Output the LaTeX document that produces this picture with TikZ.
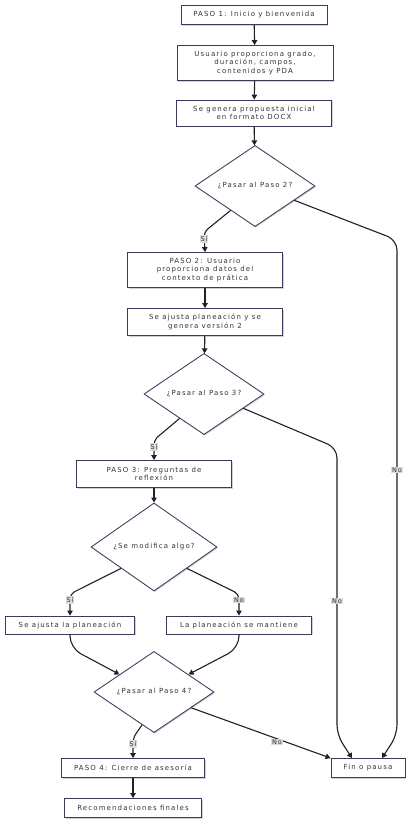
\documentclass[tikz,border=0pt]{standalone}
\usepackage{fontspec}
\setmainfont{DejaVu Sans}
\newfontfamily\flowfont[LetterSpace=16]{DejaVu Sans}
\usetikzlibrary{shapes.geometric,arrows.meta,shadows}
\definecolor{edgec}{HTML}{202028}
\definecolor{boxc}{HTML}{3A3A5C}
\definecolor{txtc}{HTML}{333340}
\definecolor{lblc}{HTML}{DCDCDC}
\tikzset{
  base/.style={draw=boxc, line width=0.85pt, fill=white, inner sep=0pt, align=center, text=txtc,
    font=\flowfont\fontsize{7}{8.6}\selectfont,
    drop shadow={shadow xshift=1pt, shadow yshift=-1pt, fill=gray, opacity=0.35}},
  stepbox/.style={base, rectangle},
  decision/.style={base, diamond},
  flow/.style={draw=edgec, line width=1.1pt, -{Triangle[length=5pt,width=5.5pt]}},
  lbl/.style={fill=lblc, inner sep=1pt, font=\flowfont\fontsize{6.5}{7}\selectfont, text=txtc},
}
\begin{document}
\begin{tikzpicture}[x=1pt,y=-1pt]
\useasboundingbox[fill=white] (0,0) rectangle (410,822);

\node[stepbox, minimum width=146pt, minimum height=19pt] (b1) at (254,15) {PASO 1: Inicio y bienvenida};
\node[stepbox, minimum width=156pt, minimum height=35pt] (b2) at (255,63) {Usuario proporciona grado,\\duración, campos,\\contenidos y PDA};
\node[stepbox, minimum width=155pt, minimum height=26pt] (b3) at (254,113) {Se genera propuesta inicial\\en formato DOCX};
\node[decision, minimum width=120pt, minimum height=75pt] (d1) at (255,186) {¿Pasar al Paso 2?};
\node[stepbox, minimum width=155pt, minimum height=35pt] (b4) at (205,270) {PASO 2: Usuario\\proporciona datos del\\contexto de prática};
\node[stepbox, minimum width=155pt, minimum height=27pt] (b5) at (205,322) {Se ajusta planeación y se\\genera versión 2};
\node[decision, minimum width=120pt, minimum height=74pt] (d2) at (204,394) {¿Pasar al Paso 3?};
\node[stepbox, minimum width=155pt, minimum height=27pt] (b6) at (154,474) {PASO 3: Preguntas de\\reflexión};
\node[decision, minimum width=126pt, minimum height=79pt] (d3) at (154,547) {¿Se modifica algo?};
\node[stepbox, minimum width=129pt, minimum height=18pt] (b7) at (70,625) {Se ajusta la planeación};
\node[stepbox, minimum width=145pt, minimum height=18pt] (b8) at (239,625) {La planeación se mantiene};
\node[decision, minimum width=120pt, minimum height=74pt] (d4) at (154,692) {¿Pasar al Paso 4?};
\node[stepbox, minimum width=143pt, minimum height=19pt] (b9) at (133,768) {PASO 4: Cierre de asesoría};
\node[stepbox, minimum width=74pt, minimum height=19pt] (b10) at (368,768) {Fin o pausa};
\node[stepbox, minimum width=137pt, minimum height=19pt] (b11) at (133,808) {Recomendaciones finales};

\coordinate (s1) at (204,232);
\coordinate (n1a) at (397,240);
\coordinate (n1b) at (397,735);
\coordinate (s2) at (154,440);
\coordinate (n2a) at (337,448);
\coordinate (n2b) at (337,735);
\coordinate (s3) at (70,594);
\coordinate (n3) at (239,594);
\coordinate (m7) at (70,648);
\coordinate (m8) at (239,648);
\coordinate (s4) at (133,738);

\draw[flow] (b1) -- (b2);
\draw[flow] (b2) -- (b3);
\draw[flow] (b3) -- (d1);
\draw[flow, rounded corners=5pt] (d1.-135) -- (s1) -- (b4.north);
\draw[flow, rounded corners=10pt] (d1.-20) -- (n1a) -- (n1b) -- ([xshift=14pt]b10.north);
\draw[flow] (b4) -- (b5);
\draw[flow] (b5) -- (d2);
\draw[flow, rounded corners=5pt] (d2.-135) -- (s2) -- (b6.north);
\draw[flow, rounded corners=10pt] (d2.-20) -- (n2a) -- (n2b) -- ([xshift=-16pt]b10.north);
\draw[flow] (b6) -- (d3);
\draw[flow, rounded corners=5pt] (d3.-147) -- (s3) -- (b7.north);
\draw[flow, rounded corners=5pt] (d3.-33) -- (n3) -- (b8.north);
\draw[flow, rounded corners=12pt] (b7.south) -- (m7) -- (d4.153);
\draw[flow, rounded corners=12pt] (b8.south) -- (m8) -- (d4.27);
\draw[flow, rounded corners=5pt] (d4.-110) -- (s4) -- (b9.north);
\draw[flow] (d4.-23) -- (b10.north west);
\draw[flow] (b9) -- (b11);

\node[lbl] (l1) at (204,239) {Sí};
\node[lbl] (l2) at (397,470) {No};
\node[lbl] (l3) at (154,447) {Sí};
\node[lbl] (l4) at (337,601) {No};
\node[lbl] (l5) at (70,600) {Sí};
\node[lbl] (l6) at (239,600) {No};
\node[lbl] (l7) at (133,744) {Sí};
\node[lbl] (l8) at (277,742) {No};
\end{tikzpicture}
\end{document}
